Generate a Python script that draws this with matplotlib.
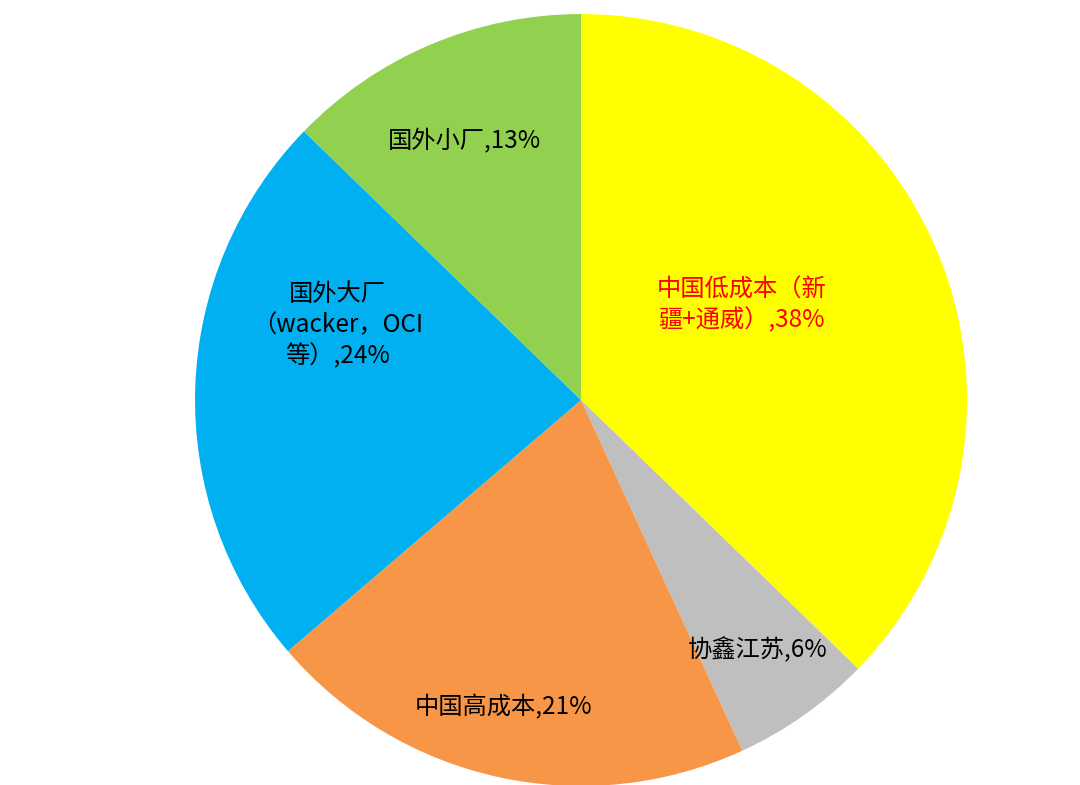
import matplotlib
matplotlib.use("Agg")
import matplotlib.pyplot as plt

plt.rcParams['font.family'] = ['Noto Sans CJK SC', 'DejaVu Sans']

# 数据
categorias = ['中国低成本（新\n疆+通威）,38%', '协鑫江苏,6%', '中国高成本,21%',
              '国外大厂\n（wacker，OCI\n等）,24%', '国外小厂,13%']
valores = [38, 6, 21, 24, 13]
cores = ['#FFFF00', '#BFBFBF', '#F79646', '#00B0F0', '#92D050']
cores_texto = ['#FF0000', 'black', 'black', 'black', 'black']

# posição dos rótulos em unidades do raio
pos_rotulos = [(0.415, 0.246), (0.459, -0.648), (-0.202, -0.795),
               (-0.630, 0.194), (-0.303, 0.671)]

fig = plt.figure(figsize=(10.8, 7.85), dpi=100)
ax = fig.add_axes([0.1806, -0.0013, 0.7148, 0.9834])

ax.pie(valores, colors=cores, startangle=90, counterclock=False,
       radius=1.0, wedgeprops=dict(linewidth=0))

for texto, (x, y), c in zip(categorias, pos_rotulos, cores_texto):
    ax.text(x, y, texto, ha='center', va='center', fontsize=17.5,
            color=c, linespacing=1.25)

ax.set_xlim(-1, 1)
ax.set_ylim(-1, 1)
ax.set_aspect('equal')
ax.axis('off')

fig.savefig('out.png', dpi=100, facecolor='white')
